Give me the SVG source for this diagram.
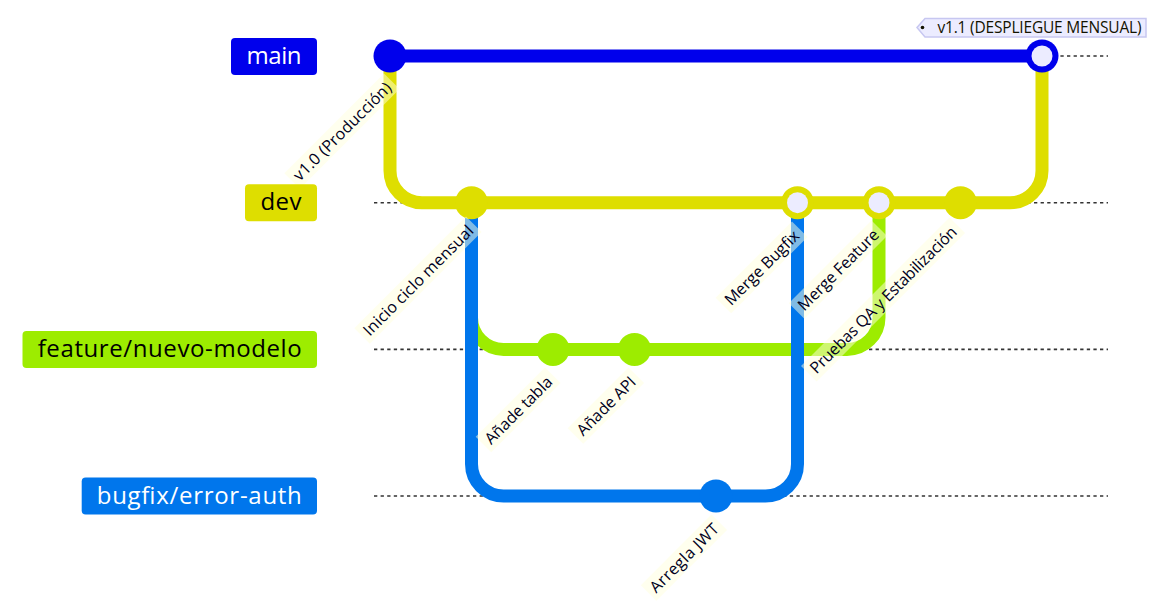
<svg xmlns="http://www.w3.org/2000/svg" width="1165" height="616" viewBox="0 0 1165 616">
  <style>
    .lane { stroke: #333333; stroke-width: 1.6; stroke-dasharray: 3.3 3.3; fill: none; }
    .arrow { fill: none; stroke-width: 13; }
    .c0 { stroke: #0000ec; }
    .c1 { stroke: #dede00; }
    .c2 { stroke: #9dec00; }
    .c3 { stroke: #0076ec; }
    .f0 { fill: #0000ec; }
    .f1 { fill: #dede00; }
    .f2 { fill: #9dec00; }
    .f3 { fill: #0076ec; }
    .merge-inner { fill: #ececff; }
    .lbl-bkg { fill: #ffffde; opacity: 0.5; }
    .lbl { font-family: "Open Sans", "Liberation Sans", sans-serif; font-size: 16px; fill: #000021; text-anchor: end; }
    .branch-text { font-family: "Open Sans", "Liberation Sans", sans-serif; font-size: 24px; text-anchor: middle; }
    .tag-text { font-family: "Open Sans", "Liberation Sans", sans-serif; font-size: 15.5px; fill: #131300; }
  </style>

  <!-- branch lanes -->
  <g id="lanes">
    <line class="lane" x1="374" y1="56" x2="1108" y2="56"/>
    <line class="lane" x1="374" y1="202.7" x2="1108" y2="202.7"/>
    <line class="lane" x1="374" y1="349.4" x2="1108" y2="349.4"/>
    <line class="lane" x1="374" y1="496" x2="1108" y2="496"/>
  </g>

  <!-- connectors between commits -->
  <g id="connectors">
    <path class="arrow c1" d="M390,56 V170.7 A32,32 0 0 0 422,202.7 H1010 A32,32 0 0 0 1042,170.7 V56"/>
    <path class="arrow c2" d="M471.5,202.7 V317.4 A32,32 0 0 0 503.5,349.4 H847 A32,32 0 0 0 879,317.4 V202.7"/>
    <path class="arrow c3" d="M471.5,202.7 V464 A32,32 0 0 0 503.5,496 H765.5 A32,32 0 0 0 797.5,464 V202.7"/>
    <path class="arrow c0" d="M390,56 H1042"/>
  </g>

  <!-- commits -->
  <g id="commit-v1-0">
    <circle class="f0" cx="390" cy="56" r="16.5"/>
    <g transform="translate(392.5,89) rotate(-45)">
      <rect class="lbl-bkg" x="-136" y="-17" width="141" height="22"/>
      <text class="lbl" x="0" y="0" textLength="131">v1.0 (Producción)</text>
    </g>
  </g>
  <g id="commit-inicio">
    <circle class="f1" cx="471.5" cy="202.7" r="16.5"/>
    <g transform="translate(474.5,232) rotate(-45)">
      <rect class="lbl-bkg" x="-153" y="-17" width="158" height="22"/>
      <text class="lbl" x="0" y="0" textLength="148">Inicio ciclo mensual</text>
    </g>
  </g>
  <g id="commit-tabla">
    <circle class="f2" cx="553" cy="349.4" r="16.5"/>
    <g transform="translate(553.5,383) rotate(-45)">
      <rect class="lbl-bkg" x="-93" y="-17" width="98" height="22"/>
      <text class="lbl" x="0" y="0" textLength="88">Añade tabla</text>
    </g>
  </g>
  <g id="commit-api">
    <circle class="f2" cx="634.5" cy="349.4" r="16.5"/>
    <g transform="translate(637,383) rotate(-45)">
      <rect class="lbl-bkg" x="-81" y="-17" width="86" height="22"/>
      <text class="lbl" x="0" y="0" textLength="76">Añade API</text>
    </g>
  </g>
  <g id="commit-jwt">
    <circle class="f3" cx="716" cy="496" r="16.5"/>
    <g transform="translate(720,530) rotate(-45)">
      <rect class="lbl-bkg" x="-95" y="-17" width="100" height="22"/>
      <text class="lbl" x="0" y="0" textLength="90">Arregla JWT</text>
    </g>
  </g>
  <g id="commit-merge-bugfix">
    <circle class="f1" cx="797.5" cy="202.7" r="16.5"/>
    <circle class="merge-inner" cx="797.5" cy="202.7" r="10.5"/>
    <g transform="translate(800.5,237) rotate(-45)">
      <rect class="lbl-bkg" x="-103" y="-17" width="108" height="22"/>
      <text class="lbl" x="0" y="0" textLength="98">Merge Bugfix</text>
    </g>
  </g>
  <g id="commit-merge-feature">
    <circle class="f1" cx="879" cy="202.7" r="16.5"/>
    <circle class="merge-inner" cx="879" cy="202.7" r="10.5"/>
    <g transform="translate(880,236) rotate(-45)">
      <rect class="lbl-bkg" x="-112" y="-17" width="117" height="22"/>
      <text class="lbl" x="0" y="0" textLength="107">Merge Feature</text>
    </g>
  </g>
  <g id="commit-pruebas">
    <circle class="f1" cx="960.5" cy="202.7" r="16.5"/>
    <g transform="translate(958,233) rotate(-45)">
      <rect class="lbl-bkg" x="-205" y="-17" width="210" height="22"/>
      <text class="lbl" x="0" y="0" textLength="200">Pruebas QA y Estabilización</text>
    </g>
  </g>
  <g id="commit-v1-1">
    <circle class="f0" cx="1042" cy="56" r="16.5"/>
    <circle class="merge-inner" cx="1042" cy="56" r="10.5"/>
  </g>

  <!-- tag on the release commit -->
  <g id="tag-v1-1">
    <polygon points="917,27.5 925,18.5 1146,18.5 1146,37 925,37" fill="#ececff" stroke="#c7c7f1" stroke-width="1.5"/>
    <circle cx="922.5" cy="27.5" r="1.8" fill="#131300"/>
    <text class="tag-text" x="937.5" y="32.5" textLength="204">v1.1 (DESPLIEGUE MENSUAL)</text>
  </g>

  <!-- branch labels -->
  <g id="branch-main">
    <rect class="f0" x="231" y="38" width="86" height="37" rx="4"/>
    <text class="branch-text" x="274" y="63.5" fill="#ffffff" textLength="55">main</text>
  </g>
  <g id="branch-dev">
    <rect class="f1" x="245" y="184.2" width="72" height="37" rx="4"/>
    <text class="branch-text" x="281" y="210" fill="#000000" textLength="41">dev</text>
  </g>
  <g id="branch-feature">
    <rect class="f2" x="22.5" y="331" width="294.5" height="37" rx="4"/>
    <text class="branch-text" x="169.7" y="356.5" fill="#000000" textLength="264">feature/nuevo-modelo</text>
  </g>
  <g id="branch-bugfix">
    <rect class="f3" x="81.7" y="477.5" width="235.3" height="37" rx="4"/>
    <text class="branch-text" x="199.3" y="503.5" fill="#ffffff" textLength="205">bugfix/error-auth</text>
  </g>
</svg>
